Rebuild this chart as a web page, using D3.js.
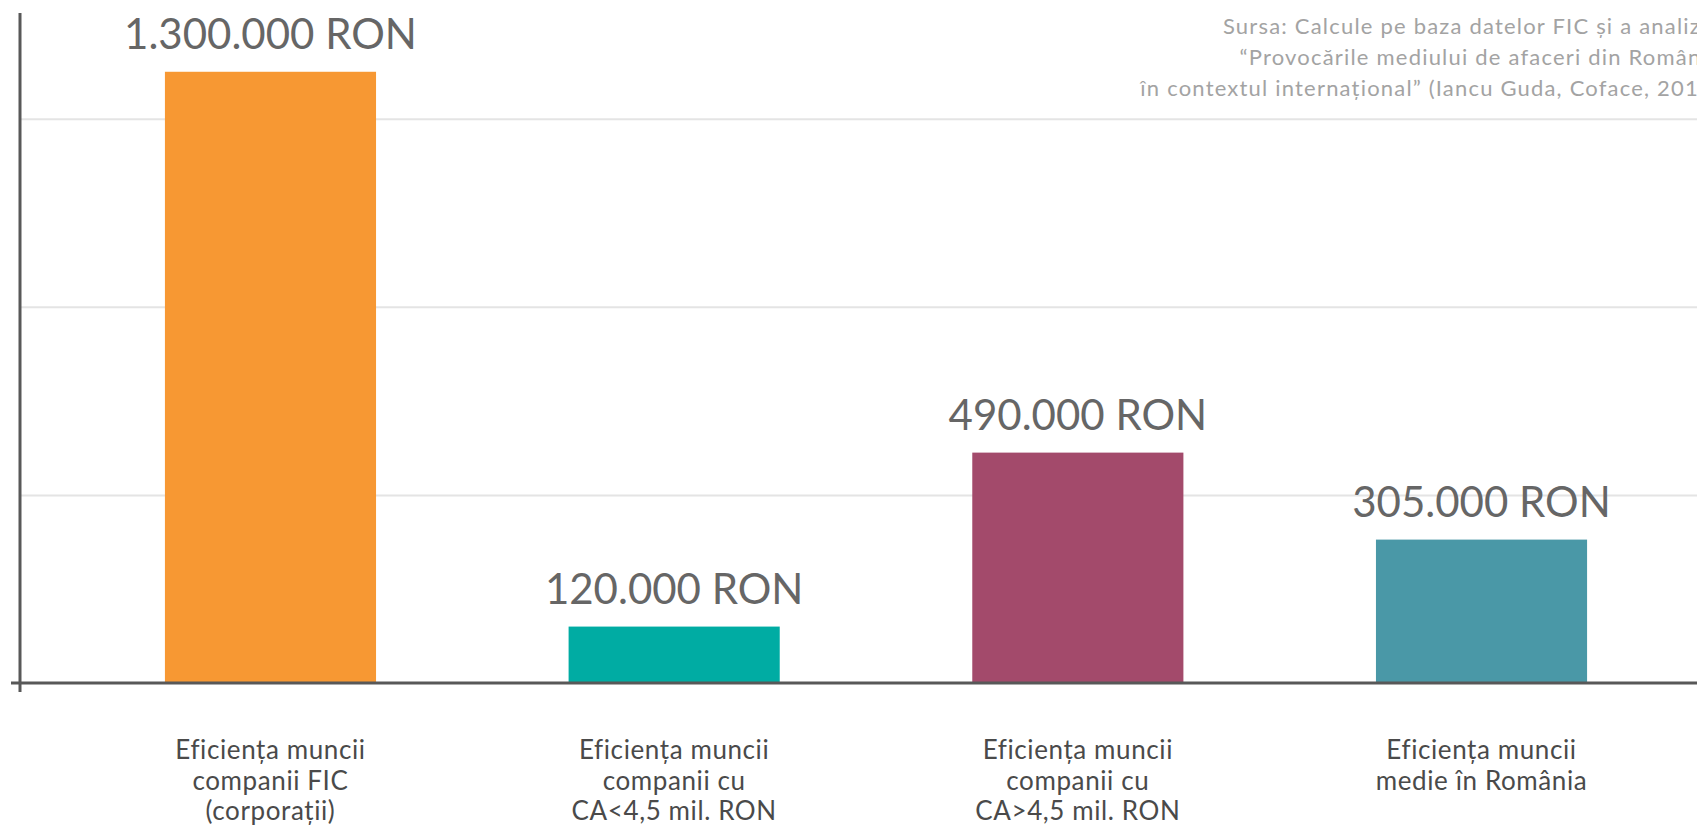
<!DOCTYPE html>
<html>
<head>
<meta charset="utf-8">
<script src="https://cdn.jsdelivr.net/npm/d3@7"></script>
<style>
  html, body { margin: 0; padding: 0; background: #fff; overflow: hidden; }
  text { font-family: "Lato", "Open Sans", sans-serif; }
</style>
</head>
<body>
<div id="chart"></div>
<script>
// Data
var categories = [
    "Eficiența muncii\ncompanii FIC\n(corporații)",
    "Eficiența muncii\ncompanii cu\nCA<4,5 mil. RON",
    "Eficiența muncii\ncompanii cu\nCA>4,5 mil. RON",
    "Eficiența muncii\nmedie în România"
];
var values = [1300000, 120000, 490000, 305000];
var valueLabels = ["1.300.000 RON", "120.000 RON", "490.000 RON", "305.000 RON"];
var gridTicks = [400000, 800000, 1200000];
var sourceLines = [
    "Sursa: Calcule pe baza datelor FIC și a analizei",
    "“Provocările mediului de afaceri din România",
    "în contextul internațional” (Iancu Guda, Coface, 2017)"
];

// Variables
var width = 1697,
    height = 829;

var color = d3.scaleOrdinal()
    .domain(categories)
    .range(["#f79833", "#00aca3", "#a34a6b", "#4a98a7"]);

var x = d3.scaleBand()
    .domain(categories)
    .range([20, 1732])
    .paddingInner(0.477)
    .paddingOuter(0.359);

var y = d3.scaleLinear()
    .domain([0, 1425000])
    .range([683, 13]);

var svg = d3.select("#chart").append("svg")
    .attr("width", width)
    .attr("height", height);

// gridlines
svg.append("g")
    .attr("transform", "translate(21,0)")
    .call(d3.axisLeft(y).tickValues(gridTicks).tickSize(-(width - 21)).tickFormat(""))
    .call(function(g) { g.select(".domain").remove(); })
    .selectAll(".tick line")
    .attr("stroke", "#e4e4e4")
    .attr("stroke-width", 2);

// source note (runs past the right edge, as in the original)
svg.append("text")
    .attr("text-anchor", "end")
    .attr("fill", "#a3a3a3")
    .style("font-size", "22px")
    .style("letter-spacing", "1.2px")
    .selectAll("tspan")
    .data(sourceLines)
    .enter().append("tspan")
    .attr("x", 1720)
    .attr("y", function(d, i) { return 34 + i * 31; })
    .text(function(d) { return d; });

// bars
svg.selectAll(".bar")
    .data(values)
    .enter().append("rect")
    .attr("class", "bar")
    .attr("x", function(d, i) { return x(categories[i]); })
    .attr("y", function(d) { return y(d); })
    .attr("width", x.bandwidth())
    .attr("height", function(d) { return y(0) - y(d); })
    .attr("fill", function(d, i) { return color(categories[i]); });

// value labels
svg.selectAll(".value-label")
    .data(values)
    .enter().append("text")
    .attr("class", "value-label")
    .attr("text-anchor", "middle")
    .attr("x", function(d, i) { return x(categories[i]) + x.bandwidth() / 2; })
    .attr("y", function(d) { return y(d) - 23; })
    .attr("fill", "#666")
    .style("font-size", "42px")
    .text(function(d, i) { return valueLabels[i]; });

// axes
svg.append("line")
    .attr("x1", 20).attr("x2", 20)
    .attr("y1", y.range()[1]).attr("y2", 692)
    .attr("stroke", "#585858").attr("stroke-width", 3);

svg.append("line")
    .attr("x1", 11).attr("x2", width)
    .attr("y1", y(0)).attr("y2", y(0))
    .attr("stroke", "#585858").attr("stroke-width", 3);

// category labels
svg.selectAll(".cat-label")
    .data(categories)
    .enter().append("text")
    .attr("class", "cat-label")
    .attr("text-anchor", "middle")
    .attr("fill", "#4a4a4a")
    .style("font-size", "26px")
    .style("letter-spacing", "0.6px")
    .each(function(d) {
        var cx = x(d) + x.bandwidth() / 2;
        d3.select(this).selectAll("tspan")
            .data(d.split("\n"))
            .enter().append("tspan")
            .attr("x", cx)
            .attr("y", function(t, i) { return 759 + i * 30.5; })
            .text(function(t) { return t; });
    });
</script>
</body>
</html>
